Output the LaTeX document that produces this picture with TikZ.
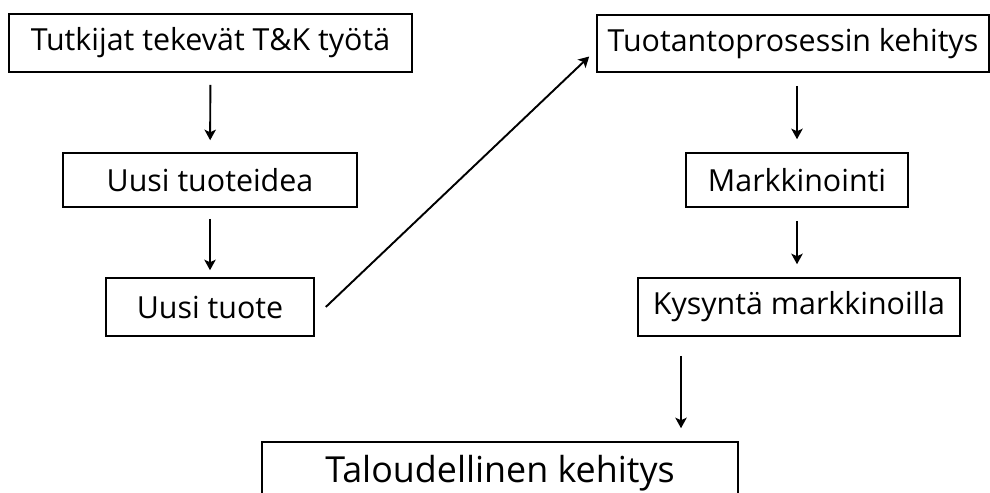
\documentclass[tikz,border=0pt]{standalone}
\usepackage{fontspec}
\setmainfont{Open Sans}
\usetikzlibrary{calc,arrows.meta}

\tikzset{
  stage/.style={draw,line width=0.9pt,inner sep=0pt,font=\fontsize{17.3pt}{20pt}\selectfont},
  flow/.style={-{Stealth[length=6pt,width=6.5pt,inset=1.5pt]},line width=1.1pt}
}

\begin{document}
\begin{tikzpicture}[x=0.02cm,y=-0.02cm]
			\useasboundingbox (0,0) rectangle (990,493);

			% left column
			\node[stage,minimum width=403*0.02cm,minimum height=58*0.02cm] (tutkijat) at (210.5,43) {Tutkijat tekevät T\&K työtä};
			\node[stage,minimum width=294*0.02cm,minimum height=54*0.02cm] (idea) at (210,180) {Uusi tuoteidea};
			\node[stage,minimum width=208*0.02cm,minimum height=58*0.02cm] (uusi) at (210,307) {Uusi tuote};

			% right column
			\node[stage,minimum width=392*0.02cm,minimum height=57*0.02cm] (tuotanto) at (793,43.5) {Tuotantoprosessin kehitys};
			\node[stage,minimum width=222*0.02cm,minimum height=54*0.02cm] (markk) at (797,180) {Markkinointi};
			\node[stage,minimum width=322*0.02cm,minimum height=58*0.02cm] (kysynta) at (799,307) {Kysyntä markkinoilla};

			% bottom
			\node[stage,font=\fontsize{20.4pt}{24pt}\selectfont,minimum width=476*0.02cm,minimum height=62*0.02cm] (talous) at (500,473) {Taloudellinen kehitys};
			\coordinate (drop) at (681,0);

			\draw[flow,shorten <=0.24cm,shorten >=0.24cm] (tutkijat) -- (idea);
			\draw[flow,shorten <=0.22cm,shorten >=0.14cm] (idea) -- (uusi);
			\draw[flow] ($(uusi.east)+(11,0)$) -- ($(tuotanto.west)+(-7,13)$);
			\draw[flow,shorten <=0.26cm,shorten >=0.26cm] (tuotanto.south -| markk) -- (markk);
			\draw[flow,shorten <=0.26cm,shorten >=0.26cm] (markk) -- (kysynta.north -| markk);
			\draw[flow,shorten <=0.38cm,shorten >=0.26cm] (kysynta.south -| drop) -- (talous.north -| drop);
		\end{tikzpicture}
\end{document}
